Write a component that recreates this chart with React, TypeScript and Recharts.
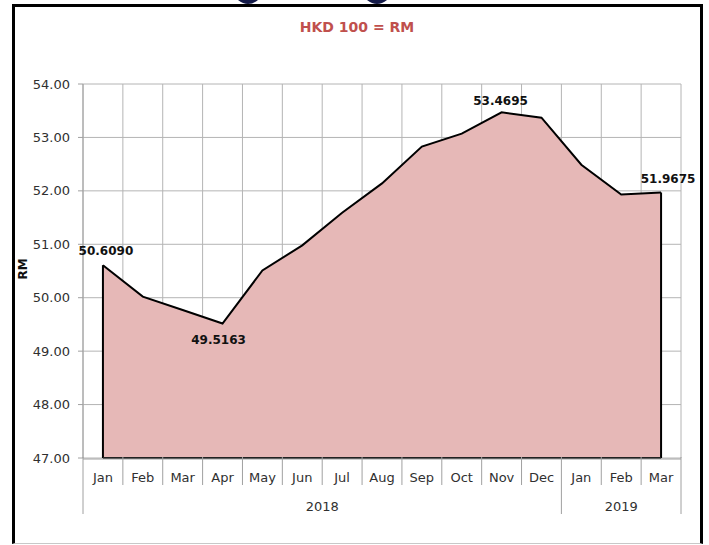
import React from 'react';
import {
  ComposedChart,
  Area,
  XAxis,
  YAxis,
  CartesianGrid,
  ReferenceLine,
  LabelList,
} from 'recharts';

// ---------- data ----------
const title = 'HKD 100 = RM';
const yAxisTitle = 'RM';
const months = ['Jan', 'Feb', 'Mar', 'Apr', 'May', 'Jun', 'Jul', 'Aug', 'Sep', 'Oct', 'Nov', 'Dec', 'Jan', 'Feb', 'Mar'];
const years = ['2018', '2019'];
const monthsPerYear = [12, 3];
const rates = [50.609, 50.02, 49.77, 49.5163, 50.51, 50.98, 51.59, 52.14, 52.83, 53.07, 53.4695, 53.37, 52.49, 51.93, 51.9675];
// which points carry a value label, and where
const labelPlacement: (string | null)[] = ['above', null, null, 'below', null, null, null, null, null, null, 'top', null, null, null, 'aboveRight'];
const yTicks = [47, 48, 49, 50, 51, 52, 53, 54];
const yDomain = [47, 54];

// ---------- derived ----------
const yearOfMonth: string[] = [];
years.forEach((y, i) => {
  for (let k = 0; k < monthsPerYear[i]; k++) yearOfMonth.push(y);
});
const rows = months.map((m, i) => ({
  key: `${yearOfMonth[i]}-${m}-${i}`,
  month: m,
  slot: i, // category slot index (used by the boundary axes)
  rate: rates[i],
}));
const boundaryTicks = months.map((_, i) => i).concat([months.length]);
const yearBoundaries: number[] = [0];
const yearCenters: number[] = [];
{
  let acc = 0;
  monthsPerYear.forEach((c) => {
    yearCenters.push(acc + c / 2);
    acc += c;
    yearBoundaries.push(acc);
  });
}

const FONT = "'DejaVu Sans', sans-serif";
const GRID = '#b4b4b4';
const AXIS = '#a0a0a0';
const TEXT = '#303030';

const labelOffsets: Record<string, { dx: number; dy: number }> = {
  above: { dx: 3, dy: -10 },
  below: { dx: -4, dy: 20 },
  top: { dx: -1, dy: -7 },
  aboveRight: { dx: 7, dy: -10 },
};

const renderLabel = (props: any) => {
  const { x, y, value } = props;
  let index = props.index;
  if (index === undefined || index === null) index = rates.indexOf(value);
  const place = labelPlacement[index];
  if (!place) return null;
  const off = labelOffsets[place];
  return (
    <text
      x={x + off.dx}
      y={y + off.dy}
      textAnchor="middle"
      fontFamily={FONT}
      fontSize={12}
      fontWeight="bold"
      fill="#111"
    >
      {Number(value).toFixed(4)}
    </text>
  );
};

const SepTick = (props: any) => {
  const { x, y, payload } = props;
  const isYear = yearBoundaries.includes(payload.value);
  return <line x1={x} x2={x} y1={y} y2={y + (isYear ? 57 : 28)} stroke={AXIS} strokeWidth={1} />;
};

const YearTick = (props: any) => {
  const { x, y, payload } = props;
  return (
    <text x={x} y={y} textAnchor="middle" fontFamily={FONT} fontSize={13} fill={TEXT}>
      {years[yearCenters.indexOf(payload.value)]}
    </text>
  );
};

const MonthTick = (props: any) => {
  const { x, y, index, payload } = props;
  const row = rows[index] || rows.find((r) => r.key === payload.value);
  return (
    <text x={x} y={y} textAnchor="middle" fontFamily={FONT} fontSize={13} fill={TEXT}>
      {row ? row.month : ''}
    </text>
  );
};

export default function App() {
  const first = rows[0];
  const last = rows[rows.length - 1];
  return (
    <div style={{ position: 'absolute', left: 0, top: 0, width: 709, height: 545, background: '#fff' }}>
      {/* frame */}
      <div
        style={{
          position: 'absolute',
          left: 12,
          top: 4,
          width: 691,
          height: 540,
          boxSizing: 'border-box',
          borderTop: '3px solid #000',
          borderLeft: '3px solid #000',
          borderRight: '3px solid #000',
          borderBottom: '1px solid #c8c8c8',
        }}
      />
      <svg width={709} height={545} style={{ position: 'absolute', left: 0, top: 0 }}>
        <path d="M238 0 Q248 8 258 0 Z" fill="#141a48" />
        <path d="M367 0 Q377 8 387 0 Z" fill="#141a48" />
        <text x={357} y={32} textAnchor="middle" fontFamily={FONT} fontWeight="bold" fontSize={14} fill="#c0504d">
          {title}
        </text>
      </svg>
      <div style={{ position: 'absolute', left: 0, top: 0 }}>
        <ComposedChart
          width={709}
          height={545}
          data={rows}
          margin={{ top: 84, right: 28, bottom: 84, left: 33 }}
        >
          <CartesianGrid xAxisId="g" stroke={GRID} strokeWidth={1} />
          <XAxis
            xAxisId="m"
            dataKey="key"
            type="category"
            scale="band"
            interval={0}
            height={1}
            tickLine={false}
            tickSize={0}
            tickMargin={0}
            axisLine={{ stroke: AXIS }}
            tick={(p: any) => <MonthTick {...p} y={p.y + 23} />}
          />
          <XAxis
            xAxisId="g"
            dataKey="slot"
            type="number"
            domain={[0, months.length]}
            ticks={boundaryTicks}
            interval={0}
            allowDataOverflow
            axisLine={false}
            tickLine={false}
            tickSize={0}
            tickMargin={0}
            height={1}
            tick={(p: any) => <SepTick {...p} y={p.y - 1} />}
          />
          <XAxis
            xAxisId="yr"
            dataKey="slot"
            type="number"
            domain={[0, months.length]}
            ticks={yearCenters}
            interval={0}
            allowDataOverflow
            axisLine={false}
            tickLine={false}
            tickSize={0}
            tickMargin={0}
            height={1}
            tick={(p: any) => <YearTick {...p} y={p.y + 51} />}
          />
          <YAxis
            type="number"
            domain={yDomain}
            ticks={yTicks}
            interval={0}
            width={50}
            tickSize={5}
            tickMargin={8}
            axisLine={{ stroke: AXIS }}
            tickLine={{ stroke: AXIS }}
            tickFormatter={(v: number) => v.toFixed(2)}
            tick={{ fontFamily: FONT, fontSize: 13, fill: TEXT }}
            label={{
              content: (p: any) => {
                const vb = p.viewBox || { x: 33, y: 84, width: 50, height: 374 };
                const cx = vb.x - 10;
                const cy = vb.y + vb.height / 2 - 2;
                return (
                  <text
                    x={cx}
                    y={cy}
                    transform={`rotate(-90 ${cx} ${cy})`}
                    textAnchor="middle"
                    dominantBaseline="central"
                    fontFamily={FONT}
                    fontSize={12}
                    fontWeight="bold"
                    fill="#111"
                  >
                    {yAxisTitle}
                  </text>
                );
              },
            }}
          />
          <Area
            xAxisId="m"
            type="linear"
            dataKey="rate"
            stroke="#000"
            strokeWidth={2}
            fill="#e6b8b7"
            fillOpacity={1}
            dot={false}
            activeDot={false}
            isAnimationActive={false}
          >
            <LabelList dataKey="rate" content={renderLabel} />
          </Area>
          <ReferenceLine
            xAxisId="m"
            segment={[{ x: first.key, y: yDomain[0] }, { x: first.key, y: first.rate }]}
            stroke="#000"
            strokeWidth={2}
          />
          <ReferenceLine
            xAxisId="m"
            segment={[{ x: last.key, y: yDomain[0] }, { x: last.key, y: last.rate }]}
            stroke="#000"
            strokeWidth={2}
          />
          <ReferenceLine
            xAxisId="m"
            segment={[{ x: first.key, y: yDomain[0] }, { x: last.key, y: yDomain[0] }]}
            stroke="#222"
            strokeWidth={2}
          />
        </ComposedChart>
      </div>
    </div>
  );
}
